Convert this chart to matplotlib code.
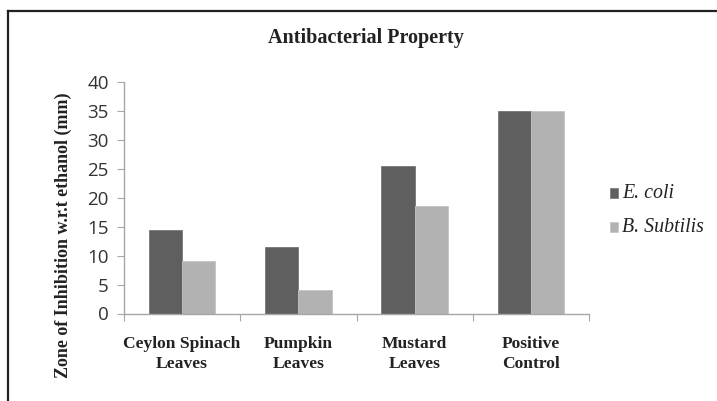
import matplotlib
matplotlib.use("Agg")
import matplotlib.pyplot as plt
from matplotlib.lines import Line2D
from matplotlib.patches import Rectangle
import numpy as np

categories = ["Ceylon Spinach\nLeaves", "Pumpkin\nLeaves", "Mustard\nLeaves", "Positive\nControl"]
e_coli = [14.5, 11.5, 25.5, 35]
b_subtilis = [9, 4, 18.5, 35]
series_names = ["E. coli", "B. Subtilis"]
y_ticks = [0, 5, 10, 15, 20, 25, 30, 35, 40]

dark = "#5f5f5f"
light = "#b2b2b2"
axis_grey = "#a6a6a6"
serif = ["Liberation Serif", "DejaVu Serif"]
sans = ["Open Sans", "DejaVu Sans"]

W, H = 717, 401
fig = plt.figure(figsize=(W / 100, H / 100), dpi=100)
fig.patch.set_facecolor("white")

# outer frame (top and left edges)
fig.add_artist(Line2D([8 / W, 1.0], [1 - 11 / H, 1 - 11 / H], transform=fig.transFigure,
                      color="#222222", lw=1.6))
fig.add_artist(Line2D([8 / W, 8 / W], [0, 1 - 11 / H], transform=fig.transFigure,
                      color="#222222", lw=1.6))

ax_l, ax_r, ax_b, ax_t = 124, 589, 313.5, 81.8
ax = fig.add_axes([ax_l / W, 1 - ax_b / H, (ax_r - ax_l) / W, (ax_b - ax_t) / H])
x = np.arange(len(categories)) + 0.5
bw = 0.285
ax.bar(x - bw / 2, e_coli, bw, color=dark, edgecolor="#777777", linewidth=0.6, label=series_names[0])
ax.bar(x + bw / 2, b_subtilis, bw, color=light, edgecolor="#c4c4c4", linewidth=0.6, label=series_names[1])

ax.set_xlim(0, len(categories))
ax.set_ylim(0, 40)
ax.set_yticks(y_ticks)
ax.set_yticklabels([str(t) for t in y_ticks], fontfamily=sans, fontsize=13.5, color="#333333")

ax.set_xticks(np.arange(len(categories) + 1))
ax.set_xticklabels([])
ax.set_xticks(x, minor=True)
ax.set_xticklabels(categories, minor=True, fontfamily=serif, fontweight="bold",
                   fontsize=12.6, color="#222222", linespacing=1.32)
ax.tick_params(axis="x", which="minor", length=0, pad=16)
ax.tick_params(axis="x", which="major", length=5, color=axis_grey, direction="out")
ax.tick_params(axis="y", length=5, color=axis_grey, direction="out", pad=6)

for s in ["top", "right"]:
    ax.spines[s].set_visible(False)
for s in ["left", "bottom"]:
    ax.spines[s].set_color(axis_grey)
    ax.spines[s].set_linewidth(1.0)

fig.text(63 / W, 1 - 235 / H, "Zone of Inhibition w.r.t ethanol (mm)", rotation=90,
         ha="center", va="center", fontfamily=serif, fontweight="bold",
         fontsize=13, color="#222222")

fig.text(366 / W, 1 - 38 / H, "Antibacterial Property", ha="center", va="center",
         fontfamily=serif, fontweight="bold", fontsize=14.5, color="#222222")

# legend
for yy, col, ec, name in [(193, dark, "#777777", series_names[0]), (227, light, "#c4c4c4", series_names[1])]:
    fig.add_artist(Rectangle((610 / W, 1 - (yy + 5) / H), 8 / W, 10 / H, transform=fig.transFigure,
                             facecolor=col, edgecolor=ec, linewidth=0.5))
    fig.text(622 / W, 1 - yy / H, name, ha="left", va="center", fontfamily=serif,
             fontstyle="italic", fontsize=14.3, color="#222222")

fig.savefig("out.png", dpi=100)
